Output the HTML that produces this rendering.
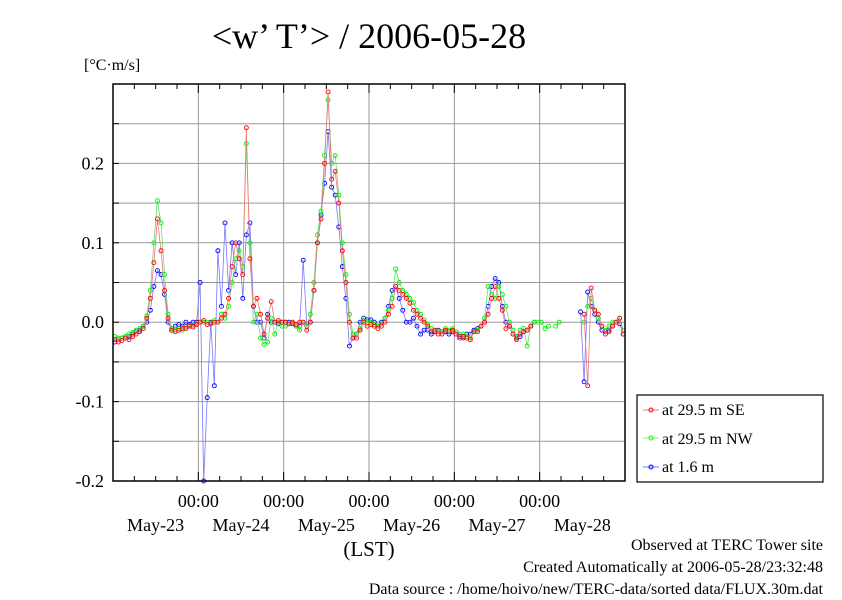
<!DOCTYPE html>
<html><head><meta charset="utf-8"><style>
body{margin:0;background:#fff;}
svg text{font-family:"Liberation Serif",serif;fill:#000;}
</style></head><body>
<svg width="842" height="595" viewBox="0 0 842 595">
<g id="grid"></g>
<g id="series"></g>
<rect x="113" y="84" width="512" height="397" fill="none" stroke="#000" stroke-width="1.5"/>
<g id="axes"></g>
<text x="369" y="48" font-size="36" text-anchor="middle">&lt;w’ T’&gt; / 2006-05-28</text>
<text x="84" y="70" font-size="16">[°C·m/s]</text>
<text x="369" y="556" font-size="21" text-anchor="middle">(LST)</text>
<text x="823" y="550" font-size="16" text-anchor="end">Observed at TERC Tower site</text>
<text x="823" y="572" font-size="16" text-anchor="end">Created Automatically at 2006-05-28/23:32:48</text>
<text x="823" y="594" font-size="16" text-anchor="end">Data source : /home/hoivo/new/TERC-data/sorted  data/FLUX.30m.dat</text>
<g>
<rect x="637" y="395" width="186" height="87" fill="#fff" stroke="#000" stroke-width="1.2"/>
<g><line x1="643" y1="410" x2="659" y2="410" stroke="#f55" stroke-width="0.8"/><circle cx="651" cy="410" r="2" fill="none" stroke="#f00"/><text x="662" y="415" font-size="16">at 29.5 m SE</text></g>
<g><line x1="643" y1="438" x2="659" y2="438" stroke="#5f5" stroke-width="0.8"/><circle cx="651" cy="438" r="2" fill="none" stroke="#0f0"/><text x="662" y="444" font-size="16">at 29.5 m NW</text></g>
<g><line x1="643" y1="467" x2="659" y2="467" stroke="#55f" stroke-width="0.8"/><circle cx="651" cy="467" r="2" fill="none" stroke="#00f"/><text x="662" y="472" font-size="16">at 1.6 m</text></g>
</g>
</svg>
<script>
const yTicks=[0.2,0.1,0.0,-0.1,-0.2];
const yTickLabels=["0.2","0.1","0.0","-0.1","-0.2"];
const dayLabels=["May-23","May-24","May-25","May-26","May-27","May-28"];
const seriesSE=[-0.022,-0.025,-0.023,-0.02,-0.022,-0.018,-0.015,-0.012,-0.008,
0.005,0.03,0.075,0.13,0.09,0.04,0.005,
-0.01,-0.012,-0.01,-0.008,-0.008,-0.005,-0.006,-0.003,
0.0,0.002,-0.003,-0.002,0.0,0.0,0.005,0.01,
0.03,0.07,0.1,0.08,0.06,0.245,0.08,0.02,
0.03,0.01,-0.015,0.005,0.026,0.0,0.002,0.0,
0.0,-0.002,0.0,-0.003,0.0,0.0,-0.01,0.0,
0.04,0.1,0.13,0.2,0.29,0.18,0.19,0.15,
0.09,0.05,0.0,-0.02,-0.02,-0.01,0.0,-0.005,
-0.003,-0.005,-0.008,-0.005,0.0,0.01,0.02,0.045,
0.04,0.035,0.03,0.024,0.015,0.01,0.005,0.0,
-0.005,-0.012,-0.01,-0.015,-0.015,-0.01,-0.012,-0.01,
-0.015,-0.02,-0.018,-0.02,-0.022,-0.012,-0.012,-0.005,
0.0,0.01,0.03,0.045,0.03,0.015,-0.008,-0.005,
-0.015,-0.022,-0.015,-0.012,-0.01,-0.005,null,null,
null,null,null,null,null,null,null,null,null,null,null,null,
0.01,-0.08,0.043,0.015,0.01,-0.005,-0.015,-0.012,-0.005,0.0,0.005,-0.015];
const seriesNW=[-0.018,-0.02,-0.02,-0.018,-0.015,-0.013,-0.01,-0.008,-0.005,
0.008,0.04,0.1,0.153,0.125,0.06,0.01,
-0.008,-0.01,-0.008,-0.01,-0.006,-0.004,-0.004,-0.002,
0.0,0.0,0.0,-0.002,0.002,0.0,0.01,0.005,
0.02,0.05,0.08,0.09,0.07,0.225,0.1,0.0,
0.01,-0.02,-0.028,-0.025,0.005,-0.015,0.0,-0.005,
-0.005,-0.002,0.0,-0.005,-0.01,0.0,-0.005,0.01,
0.05,0.11,0.14,0.21,0.28,0.2,0.21,0.16,
0.1,0.06,0.01,-0.015,-0.015,-0.008,0.002,0.0,
0.0,-0.003,-0.005,-0.002,0.005,0.015,0.03,0.067,
0.05,0.04,0.035,0.03,0.025,0.015,0.01,0.003,
-0.003,-0.008,-0.01,-0.012,-0.012,-0.008,-0.01,-0.008,
-0.012,-0.015,-0.015,-0.018,-0.02,-0.012,-0.01,-0.005,
0.005,0.045,0.035,0.03,0.045,0.035,0.02,0.0,
-0.01,-0.018,-0.01,-0.008,-0.03,-0.005,0.0,0.0,
0.0,-0.008,-0.005,null,-0.005,0.0,null,null,null,null,null,null,
0.0,0.02,0.03,0.015,0.005,-0.005,-0.01,-0.005,0.0,0.0,0.005,-0.01];
const series16=[-0.025,-0.022,-0.02,-0.02,-0.018,-0.015,-0.012,-0.01,-0.005,
0.0,0.015,0.045,0.065,0.06,0.035,0.0,
-0.01,-0.005,-0.003,-0.005,0.0,-0.003,0.0,0.0,
0.05,-0.2,-0.095,0.0,-0.08,0.09,0.02,0.125,
0.04,0.1,0.06,0.1,0.03,0.11,0.125,0.02,
0.0,0.0,-0.02,0.01,0.0,0.0,-0.002,0.0,
0.0,0.0,-0.002,-0.005,-0.005,0.078,-0.005,0.0,
0.04,0.1,0.135,0.175,0.24,0.17,0.16,0.12,
0.07,0.03,-0.03,-0.02,-0.015,0.0,0.005,0.003,
0.003,0.0,-0.005,0.0,0.005,0.02,0.04,0.045,
0.03,0.015,0.0,0.0,0.005,-0.005,-0.015,-0.01,
-0.01,-0.015,-0.012,-0.01,-0.012,-0.012,-0.015,-0.012,
-0.015,-0.018,-0.02,-0.015,-0.015,-0.01,-0.008,-0.005,
0.0,0.02,0.045,0.055,0.05,0.02,0.0,-0.005,
-0.015,-0.02,-0.018,-0.012,-0.01,-0.005,0.0,null,
null,null,null,null,null,null,null,null,null,null,null,0.013,
-0.075,0.038,0.02,0.01,0.0,-0.01,-0.012,-0.01,-0.005,0.0,-0.002,-0.015];

const X0=113,X1=625,Y0=84,Y1=481,HOURS=144,VMAX=0.3,VMIN=-0.2;
const NS="http://www.w3.org/2000/svg";
function xs(h){return X0+(h+0.5)*(X1-X0)/HOURS;}
function xd(h){return X0+h*(X1-X0)/HOURS;}
function ys(v){return Y0+(VMAX-v)*(Y1-Y0)/(VMAX-VMIN);}
function mk(tag,attrs,parent){const e=document.createElementNS(NS,tag);for(const k in attrs)e.setAttribute(k,attrs[k]);parent.appendChild(e);return e;}
const grid=document.getElementById('grid'),axes=document.getElementById('axes'),ser=document.getElementById('series');
for(let v=-0.15;v<0.3;v+=0.05){
 const l=mk('line',{x1:X0,x2:X1,y1:ys(v),y2:ys(v),stroke:'#999','stroke-width':1},grid);
 
 
 const t1=mk('line',{x1:X0,x2:X0+6,y1:ys(v),y2:ys(v),stroke:'#000','stroke-width':1},axes);
 
 
}
yTicks.forEach((v,i)=>{
 const t=mk('text',{x:104,y:ys(v)+6,'font-size':18,'text-anchor':'end'},axes);
 t.textContent=yTickLabels[i];
 
 
});
for(let d=1;d<6;d++){
 const l=mk('line',{x1:xd(d*24),x2:xd(d*24),y1:Y0,y2:Y1,stroke:'#999','stroke-width':1},grid);
 
 
 const t=mk('text',{x:xd(d*24),y:507,'font-size':18,'text-anchor':'middle'},axes);
 t.textContent='00:00';
 
 
}
for(let h=6;h<144;h+=6){
 const len=(h%24===0)?9:5;
 const a=mk('line',{x1:xd(h),x2:xd(h),y1:Y0,y2:Y0+len,stroke:'#000','stroke-width':1},axes);
 
 
 const b=mk('line',{x1:xd(h),x2:xd(h),y1:Y1,y2:Y1-len,stroke:'#000','stroke-width':1},axes);
 
 
}
dayLabels.forEach((s,i)=>{
 const t=mk('text',{x:xd(i*24+12),y:531,'font-size':18,'text-anchor':'middle'},axes);
 t.textContent=s;
 
 
});
function draw(arr,line,mark,name){
 const g=mk('g',{},ser);
 
 
 let d='',pen=false;
 arr.forEach((v,i)=>{if(v===null){pen=false;return;}d+=(pen?'L':'M')+xs(i).toFixed(1)+' '+ys(v).toFixed(1);pen=true;});
 const p=mk('path',{d:d,fill:'none',stroke:line,'stroke-width':0.8},g);
 
 
 arr.forEach((v,i)=>{if(v===null)return;
  const c=mk('circle',{cx:xs(i),cy:ys(v),r:2,fill:'none',stroke:mark,'stroke-width':0.9},g);
  
  
 });
}
draw(series16,'#7777ff','#0000ff','series-1-6m');
draw(seriesNW,'#66dd66','#00ee00','series-29-5m-nw');
draw(seriesSE,'#ee7777','#ff0000','series-29-5m-se');
</script>
</body></html>
